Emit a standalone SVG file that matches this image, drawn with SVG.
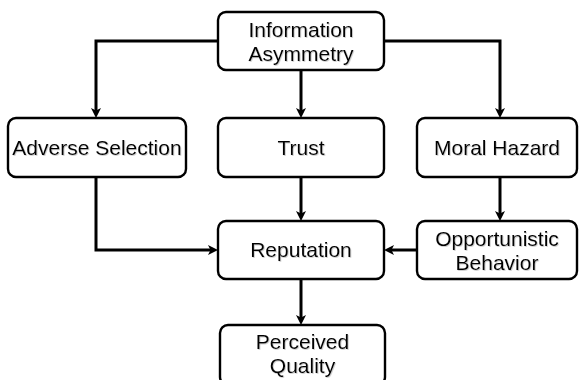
<svg xmlns="http://www.w3.org/2000/svg" width="579" height="380" viewBox="0 0 579 380">
  <style>
    .box { fill: #ffffff; stroke: #000000; stroke-width: 2.4; }
    .label { font-family: "Liberation Sans", Arial, Helvetica, sans-serif; font-size: 21px; fill: #000000; text-anchor: middle; filter: url(#soft-shadow); }
    .edge { fill: none; stroke: #000000; stroke-width: 3; marker-end: url(#arrow); }
  </style>
  <defs>
    <marker id="arrow" viewBox="-5 -6 12 12" markerWidth="12" markerHeight="12" refX="0" refY="0" markerUnits="userSpaceOnUse" orient="auto">
      <path d="M-4,-5 L6,0 L-4,5 L-1.5,0 z" fill="#000000"/>
    </marker>
    <!-- faint grey drop shadow behind the labels -->
    <filter id="soft-shadow" x="-10%" y="-30%" width="120%" height="160%">
      <feDropShadow dx="0.8" dy="0.8" stdDeviation="0.6" flood-color="#808080" flood-opacity="0.45"/>
    </filter>
  </defs>

  <rect width="579" height="380" fill="#ffffff"/>

  <g id="connectors">
    <path class="edge" d="M218,41 H96 V112"/>
    <path class="edge" d="M301,70 V112"/>
    <path class="edge" d="M384,41 H500 V112"/>
    <path class="edge" d="M96,177 V250 H212"/>
    <path class="edge" d="M301,177 V215"/>
    <path class="edge" d="M500,177 V215"/>
    <path class="edge" d="M417,250 H390"/>
    <path class="edge" d="M301,279 V319"/>
  </g>

  <g id="information-asymmetry">
    <rect class="box" x="218" y="12" width="166" height="58" rx="8"/>
    <text class="label" x="301" y="36.5">Information</text>
    <text class="label" x="301" y="60.5">Asymmetry</text>
  </g>

  <g id="adverse-selection">
    <rect class="box" x="8" y="118" width="178" height="59" rx="8"/>
    <text class="label" x="97" y="154.5">Adverse Selection</text>
  </g>

  <g id="trust">
    <rect class="box" x="218" y="118" width="166" height="59" rx="8"/>
    <text class="label" x="301" y="155">Trust</text>
  </g>

  <g id="moral-hazard">
    <rect class="box" x="417" y="118" width="160" height="59" rx="8"/>
    <text class="label" x="497" y="154.5">Moral Hazard</text>
  </g>

  <g id="reputation">
    <rect class="box" x="218" y="221" width="166" height="58" rx="8"/>
    <text class="label" x="301" y="257">Reputation</text>
  </g>

  <g id="opportunistic-behavior">
    <rect class="box" x="417" y="221" width="160" height="58" rx="8"/>
    <text class="label" x="497" y="246">Opportunistic</text>
    <text class="label" x="497" y="270">Behavior</text>
  </g>

  <g id="perceived-quality">
    <rect class="box" x="220" y="325" width="165" height="60" rx="8"/>
    <text class="label" x="302.5" y="349">Perceived</text>
    <text class="label" x="302.5" y="373">Quality</text>
  </g>
</svg>
